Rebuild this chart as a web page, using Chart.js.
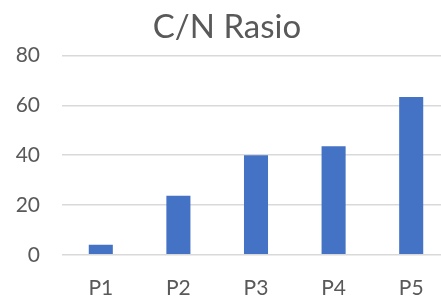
<!DOCTYPE html>
<html>
<head>
<meta charset="utf-8">
<script src="https://cdn.jsdelivr.net/npm/chart.js@4"></script>
<style>
  html, body { margin: 0; padding: 0; background: #fff; overflow: hidden; }
  #wrap { width: 450px; height: 314px; }
</style>
</head>
<body>
<div id="wrap"><canvas id="canvasChart" width="450" height="314"></canvas></div>
<script>
var categories = ['P1', 'P2', 'P3', 'P4', 'P5'];
var cnValues = [4.0, 23.7, 40.0, 43.6, 63.4];
var yTicks = [0, 20, 40, 60, 80];

var ctx = document.getElementById('canvasChart').getContext('2d');
var myBarChart = new Chart(ctx, {
    type: 'bar',
    data: {
        labels: categories,
        datasets: [{
            label: 'C/N Rasio',
            data: cnValues,
            backgroundColor: '#4472C4',
            categoryPercentage: 1,
            barPercentage: 0.31
        }]
    },
    options: {
        responsive: false,
        animation: false,
        layout: { padding: { top: 4, left: 4, right: 0, bottom: 0 } },
        plugins: {
            legend: { display: false },
            tooltip: { enabled: false },
            title: {
                display: true,
                text: 'C/N Rasio',
                color: '#595959',
                font: { family: 'Lato', size: 33, weight: 'normal' },
                padding: { top: 4, bottom: 8 }
            }
        },
        scales: {
            x: {
                grid: { display: false },
                border: { display: false },
                ticks: {
                    color: '#595959',
                    font: { family: 'Lato', size: 21 },
                    padding: 13
                }
            },
            y: {
                min: yTicks[0],
                max: yTicks[yTicks.length - 1],
                afterBuildTicks: function(axis) {
                    axis.ticks = yTicks.map(function(v) { return { value: v }; });
                },
                afterFit: function(axis) {
                    axis.width = 58;
                },
                grid: { color: '#d9d9d9', lineWidth: 1.5, drawTicks: false },
                border: { display: false },
                ticks: {
                    color: '#595959',
                    font: { family: 'Lato', size: 21 },
                    padding: 22
                }
            }
        }
    }
});
</script>
</body>
</html>
